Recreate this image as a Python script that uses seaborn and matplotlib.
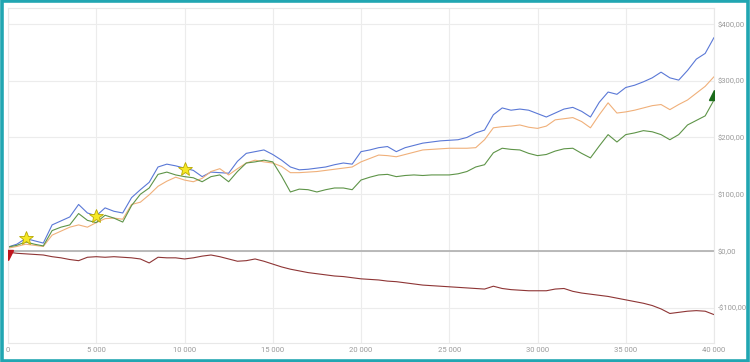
import matplotlib
matplotlib.use("Agg")
import matplotlib.pyplot as plt
import matplotlib.ticker as mticker
from matplotlib.patches import Rectangle
import pandas as pd
import seaborn as sns

# sample positions along the x axis (every 500 steps)
steps = list(range(0, 40001, 500))

blue = [7, 12, 22, 18, 14, 46, 53, 60, 82, 67, 62, 76, 70, 67, 94, 108, 121, 148, 153, 150,
        146, 142, 131, 139, 138, 137, 158, 172, 175, 178, 170, 160, 148, 143, 144, 146, 148, 152, 155, 153,
        175, 178, 182, 184, 175, 182, 186, 190, 192, 194, 195, 196, 200, 208, 213, 240, 252, 248, 250, 248,
        242, 236, 243, 250, 253, 246, 236, 262, 280, 276, 288, 292, 298, 305, 315, 305, 301, 318, 338, 348,
        376]
orange = [5, 8, 12, 10, 8, 28, 35, 42, 46, 42, 50, 57, 58, 56, 82, 86, 99, 114, 123, 130,
          125, 122, 128, 140, 145, 134, 145, 155, 160, 157, 155, 149, 138, 138, 139, 140, 142, 144, 146, 148,
          157, 163, 169, 168, 166, 170, 174, 178, 179, 180, 181, 181, 181, 182, 196, 217, 219, 220, 222, 218,
          216, 220, 231, 233, 235, 228, 217, 240, 261, 243, 245, 248, 252, 256, 258, 249, 258, 266, 278, 290,
          307]
green = [7, 10, 16, 12, 9, 36, 42, 46, 66, 54, 50, 63, 58, 51, 80, 100, 111, 135, 139, 134,
         131, 129, 122, 131, 134, 122, 140, 155, 157, 160, 157, 132, 104, 109, 108, 104, 108, 111, 111, 108,
         125, 130, 134, 135, 131, 133, 134, 133, 134, 134, 134, 136, 140, 148, 152, 173, 181, 179, 178, 172,
         168, 170, 176, 180, 181, 172, 164, 185, 205, 192, 205, 208, 212, 210, 205, 196, 205, 222, 230, 238,
         266]
red = [-2, -4, -5, -6, -7, -10, -12, -15, -17, -11, -10, -11, -10, -11, -12, -14, -21, -11, -12, -12,
       -14, -12, -9, -7, -10, -14, -18, -17, -14, -18, -23, -28, -32, -35, -38, -40, -42, -44, -45, -47,
       -49, -50, -51, -53, -54, -56, -58, -60, -61, -62, -63, -64, -65, -66, -67, -62, -66, -68, -69, -70,
       -70, -70, -67, -66, -71, -74, -76, -78, -80, -83, -86, -89, -92, -96, -102, -110, -108, -106, -105, -106,
       -112]

star_x = [1000, 5000, 10000]
star_y = [23, 61, 145]
start_marker = (0, -7)
end_marker = (40000, 275)

x_ticks = [0, 5000, 10000, 15000, 20000, 25000, 30000, 35000, 40000]
y_ticks = [-100, 0, 100, 200, 300, 400]

series_names = ["blue", "orange", "green", "red"]
colors = {"blue": "#5a78d6", "orange": "#f0b07a", "green": "#5e9448", "red": "#8e3535"}

df = pd.concat([
    pd.DataFrame({"step": steps, "value": vals, "series": name})
    for name, vals in zip(series_names, [blue, orange, green, red])
])

sns.set_style("white")
plt.rcParams["font.family"] = ["Roboto", "DejaVu Sans"]

fig = plt.figure(figsize=(7.5, 3.62), dpi=100)
ax = fig.add_axes([8 / 750, 19 / 362, 706 / 750, 335 / 362])

ax.axhline(0, color="#b4b4b4", lw=1.3, zorder=1)
sns.lineplot(data=df, x="step", y="value", hue="series", palette=colors,
             linewidth=0.8, legend=False, ax=ax, zorder=2)

ax.plot(star_x, star_y, linestyle="none", marker="*", markersize=10,
        markerfacecolor="#f6e825", markeredgecolor="#b8a800", markeredgewidth=0.6, zorder=4)
ax.plot(*start_marker, linestyle="none", marker="v", markersize=7, color="#c0141c", zorder=4)
ax.plot(*end_marker, linestyle="none", marker="^", markersize=7, color="#1b6b1b", zorder=4)

ax.set_xlim(0, 40000)
ax.set_ylim(-162, 428)
ax.set_xticks(x_ticks)
ax.set_yticks(y_ticks)
ax.xaxis.set_major_formatter(mticker.FuncFormatter(lambda v, p: f"{int(v):,}".replace(",", " ")))
ax.yaxis.set_major_formatter(mticker.FuncFormatter(
    lambda v, p: ("-" if v < 0 else "") + f"${abs(v):.2f}".replace(".", ",")))
ax.yaxis.tick_right()
ax.tick_params(axis="both", length=0, labelsize=5.5, labelcolor="#9a9a9a")
ax.tick_params(axis="y", pad=2.5)
ax.tick_params(axis="x", pad=3)
ax.set_xlabel("")
ax.set_ylabel("")
ax.grid(True, color="#ececec", linewidth=0.8)
ax.set_axisbelow(True)
for s in ax.spines.values():
    s.set_color("#e8e8e8")
    s.set_linewidth(0.8)

# teal frame around the whole picture
fig.patches.append(Rectangle((0.002, 0.004), 0.995, 0.992, transform=fig.transFigure,
                             fill=False, edgecolor="#21a6b2", linewidth=2.6))

fig.savefig("out.png", dpi=100)
